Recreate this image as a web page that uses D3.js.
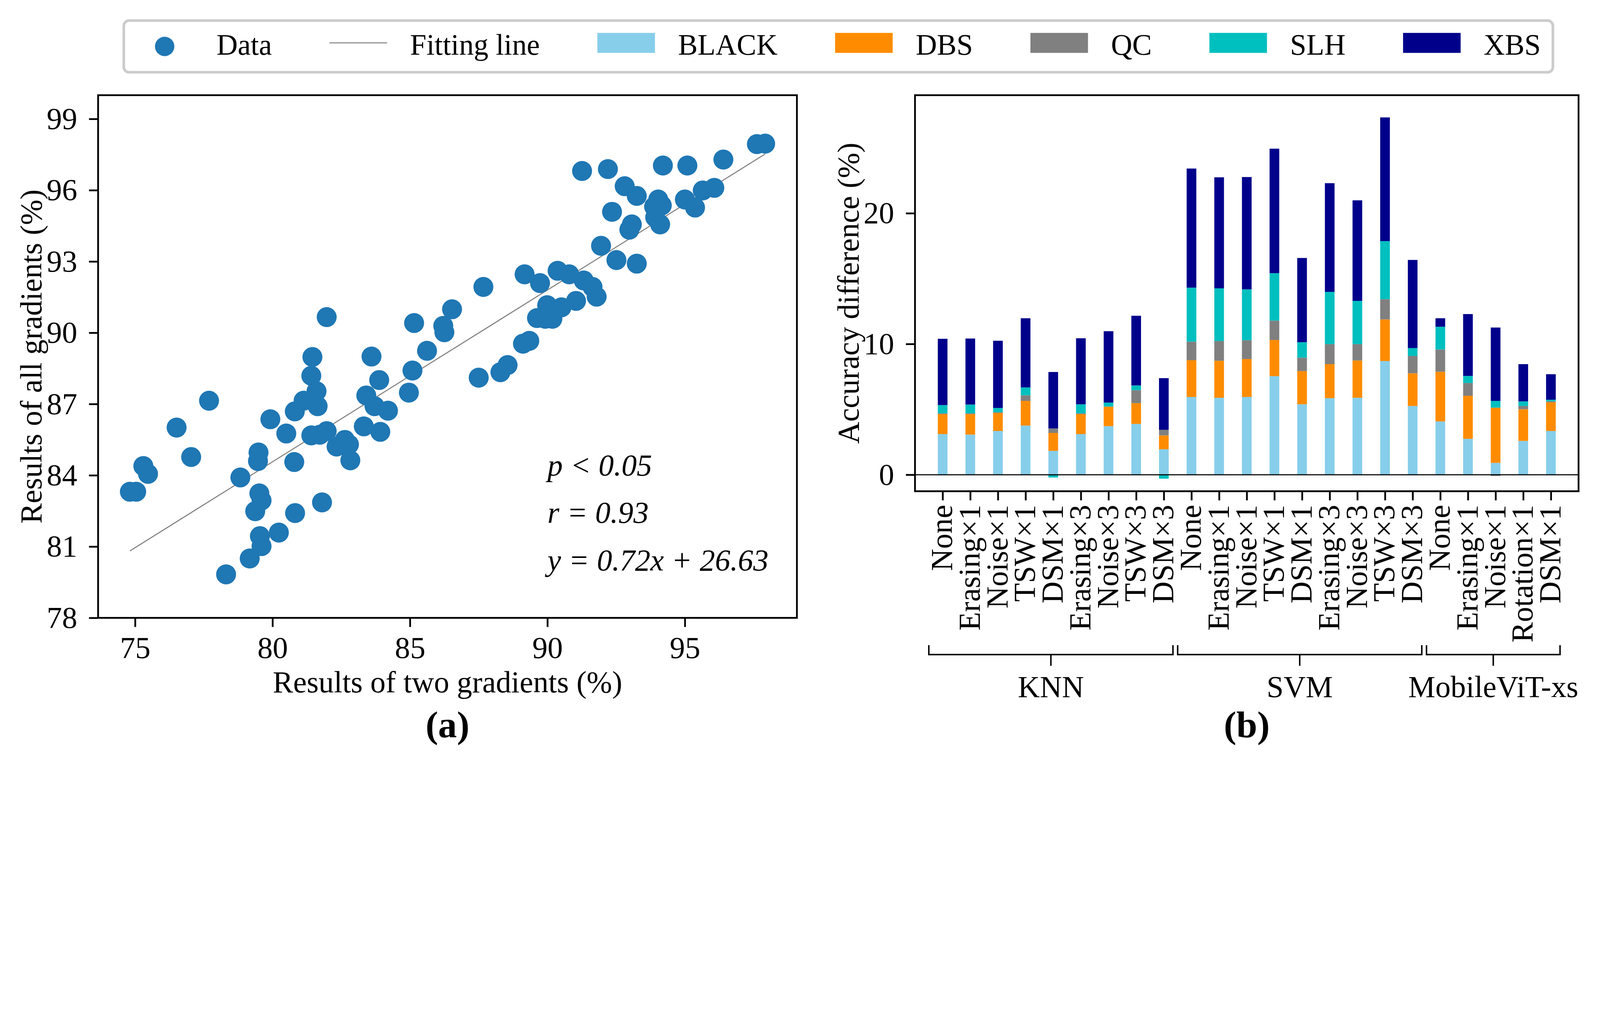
<!DOCTYPE html>
<html>
<head>
<meta charset="utf-8">
<script src="https://cdn.jsdelivr.net/npm/d3@7/dist/d3.min.js"></script>
<style>
html, body { margin: 0; padding: 0; background: #fff; overflow: hidden; }
#fig { display: block; width: 100vw; height: 100vh; }
text { font-family: "Liberation Serif", "DejaVu Serif", serif; fill: #000; }
</style>
</head>
<body>
<svg id="fig" viewBox="0 0 5447 2626" preserveAspectRatio="xMidYMin meet"></svg>
<script>
// ---- (a) scatter data ----
const twoGrad = [74.81, 75.04, 75.30, 75.47, 76.51, 77.04, 77.69, 78.31, 78.83, 79.17,
	79.37, 79.49, 79.47, 79.52, 79.60, 79.54, 79.60, 79.92, 80.23, 80.50,
	80.79, 80.81, 80.82, 81.13, 81.41, 81.45, 81.60, 81.64, 81.41, 81.72,
	81.97, 81.80, 81.97, 82.33, 82.63, 82.78, 82.83, 83.32, 83.41, 83.60,
	83.71, 83.88, 83.92, 84.20, 84.96, 85.09, 85.15, 85.62, 86.21, 86.25,
	86.53, 87.50, 87.67, 88.29, 88.55, 89.11, 89.34, 89.17, 89.73, 89.62,
	89.92, 89.99, 90.18, 90.37, 90.51, 90.79, 91.04, 91.26, 91.32, 91.64,
	91.79, 91.95, 92.20, 92.35, 92.51, 92.81, 92.98, 93.07, 93.25, 93.25,
	93.88, 94.03, 94.16, 93.92, 94.10, 94.20, 95.09, 95.00, 95.37, 95.65,
	96.07, 96.40, 97.62, 97.92];
const allGrad = [83.31, 83.31, 84.39, 84.06, 86.01, 84.77, 87.14, 79.83, 83.91, 80.50,
	82.49, 84.96, 84.60, 83.24, 82.94, 81.44, 81.02, 86.36, 81.59, 85.76,
	84.56, 86.69, 82.41, 87.14, 88.19, 88.98, 87.54, 86.91, 85.68, 85.71,
	85.86, 82.86, 90.66, 85.21, 85.49, 85.30, 84.63, 86.06, 87.36, 89.00,
	86.91, 88.01, 85.83, 86.72, 87.48, 88.41, 90.41, 89.24, 90.29, 90.02,
	90.99, 88.11, 91.93, 88.34, 88.64, 89.54, 89.66, 92.46, 92.09, 90.62,
	90.59, 91.16, 90.59, 92.61, 91.07, 92.46, 91.34, 96.81, 92.20, 91.93,
	91.52, 93.66, 96.89, 95.09, 93.06, 96.17, 94.34, 94.56, 95.76, 92.91,
	95.31, 95.61, 95.36, 94.86, 94.56, 97.04, 97.04, 95.61, 95.27, 95.99,
	96.10, 97.29, 97.94, 97.96];
const fitSlope = 0.723;
const fitIntercept = 26.73;
const statLines = ["p < 0.05", "r = 0.93", "y = 0.72x + 26.63"];
const statX = 90;
const statY = [84, 82, 80];
const scatterXTicks = [75, 80, 85, 90, 95];
const scatterYTicks = [78, 81, 84, 87, 90, 93, 96, 99];

// ---- (b) stacked bar data ----
const augments = ["None", "Erasing×1", "Noise×1", "TSW×1", "DSM×1", "Erasing×3", "Noise×3", "TSW×3", "DSM×3",
	"None", "Erasing×1", "Noise×1", "TSW×1", "DSM×1", "Erasing×3", "Noise×3", "TSW×3", "DSM×3",
	"None", "Erasing×1", "Noise×1", "Rotation×1", "DSM×1"];
const modelNames = ["KNN", "SVM", "MobileViT-xs"];
const modelSizes = [9, 9, 5];
const black = [3.11, 3.07, 3.35, 3.76, 1.83, 3.11, 3.72, 3.89, 1.95,
	5.95, 5.89, 5.95, 7.54, 5.39, 5.86, 5.89, 8.70, 5.26,
	4.08, 2.75, 0.91, 2.59, 3.35];
const dbs = [1.53, 1.57, 1.38, 1.89, 1.37, 1.53, 1.48, 1.59, 1.06,
	2.81, 2.83, 2.90, 2.77, 2.54, 2.60, 2.85, 3.18, 2.50,
	3.80, 3.29, 4.22, 2.42, 2.19];
const qc = [0.06, 0.06, 0.06, 0.43, 0.34, 0.06, 0.02, 0.99, 0.43,
	1.42, 1.51, 1.44, 1.48, 1.03, 1.53, 1.25, 1.55, 1.33,
	1.70, 0.98, -0.09, 0.25, 0.09];
const slh = [0.63, 0.67, 0.32, 0.60, -0.21, 0.69, 0.30, 0.36, -0.30,
	4.13, 4.03, 3.89, 3.63, 1.18, 4.00, 3.31, 4.44, 0.60,
	1.74, 0.54, 0.52, 0.35, 0.11];
const xbs = [5.07, 5.05, 5.14, 5.29, 4.32, 5.05, 5.46, 5.33, 3.95,
	9.11, 8.49, 8.59, 9.52, 6.44, 8.31, 7.69, 9.46, 6.74,
	0.65, 4.73, 5.61, 2.85, 1.95];
const seriesNames = ["BLACK", "DBS", "QC", "SLH", "XBS"];
const seriesColors = ["#87ceeb", "#ff8c00", "#808080", "#00bfbf", "#00008b"];
const barYTicks = [0, 10, 20];

const svg = d3.select("#fig");
const fs = 104;
const lw = 6;

// ================= (a) =================
const ax = { left: 334, right: 2713, top: 324, bottom: 2103 };
const xExt = d3.extent(twoGrad);
const xPad = (xExt[1] - xExt[0]) * 0.05;
const xA = d3.scaleLinear().domain([xExt[0] - xPad, xExt[1] + xPad]).range([ax.left, ax.right]);
const yA = d3.scaleLinear().domain([78, 100]).range([ax.bottom, ax.top]);

const gA = svg.append("g");

gA.append("line")
	.attr("x1", xA(xExt[0])).attr("y1", yA(fitSlope * xExt[0] + fitIntercept))
	.attr("x2", xA(xExt[1])).attr("y2", yA(fitSlope * xExt[1] + fitIntercept))
	.attr("stroke", "#808080").attr("stroke-width", 3.5);

gA.append("g").selectAll("circle")
	.data(twoGrad)
	.enter()
	.append("circle")
	.attr("cx", d => xA(d))
	.attr("cy", (d, i) => yA(allGrad[i]))
	.attr("r", 34)
	.attr("fill", "#1f77b4");

gA.append("g").selectAll("text")
	.data(statLines)
	.enter()
	.append("text")
	.attr("x", xA(statX))
	.attr("y", (d, i) => yA(statY[i]))
	.attr("font-size", fs)
	.attr("font-style", "italic")
	.text(d => d);

gA.append("g")
	.attr("transform", `translate(0,${ax.bottom})`)
	.call(d3.axisBottom(xA).tickValues(scatterXTicks).tickSize(31).tickPadding(31));
gA.append("g")
	.attr("transform", `translate(${ax.left},0)`)
	.call(d3.axisLeft(yA).tickValues(scatterYTicks).tickSize(31).tickPadding(40));

gA.append("rect")
	.attr("x", ax.left).attr("y", ax.top)
	.attr("width", ax.right - ax.left).attr("height", ax.bottom - ax.top)
	.attr("fill", "none").attr("stroke", "#000").attr("stroke-width", lw);

gA.append("text")
	.attr("x", (ax.left + ax.right) / 2).attr("y", 2356)
	.attr("text-anchor", "middle").attr("font-size", fs)
	.text("Results of two gradients (%)");
gA.append("text")
	.attr("transform", `translate(141,${(ax.top + ax.bottom) / 2}) rotate(-90)`)
	.attr("text-anchor", "middle").attr("font-size", fs)
	.text("Results of all gradients (%)");
gA.append("text")
	.attr("x", (ax.left + ax.right) / 2).attr("y", 2510)
	.attr("text-anchor", "middle").attr("font-size", 128).attr("font-weight", "bold")
	.text("(a)");

// ================= (b) =================
const bx = { left: 3115, right: 5374, top: 324, bottom: 1672 };
const idx = d3.range(augments.length);
const xB = d3.scaleLinear().domain([-1, augments.length]).range([bx.left, bx.right]);
const yB = d3.scaleLinear().domain([-1.26, 29.03]).range([bx.bottom, bx.top]);
const barW = 0.35;

const rows = idx.map(i => ({ i: i, BLACK: black[i], DBS: dbs[i], QC: qc[i], SLH: slh[i], XBS: xbs[i] }));
const stacked = d3.stack().keys(seriesNames).offset(d3.stackOffsetDiverging)(rows);

const gB = svg.append("g");

gB.append("g").selectAll("g")
	.data(stacked)
	.enter()
	.append("g")
	.attr("fill", (d, k) => seriesColors[k])
	.selectAll("rect")
	.data(d => d)
	.enter()
	.append("rect")
	.attr("x", d => xB(d.data.i - barW / 2))
	.attr("width", xB(barW) - xB(0))
	.attr("y", d => yB(Math.max(d[0], d[1])))
	.attr("height", d => Math.abs(yB(d[0]) - yB(d[1])));

gB.append("line")
	.attr("x1", bx.left).attr("x2", bx.right)
	.attr("y1", yB(0)).attr("y2", yB(0))
	.attr("stroke", "#000").attr("stroke-width", 3.5);

gB.append("g")
	.attr("transform", `translate(${bx.left},0)`)
	.call(d3.axisLeft(yB).tickValues(barYTicks).tickSize(31).tickPadding(40));

const xAxisB = gB.append("g")
	.attr("transform", `translate(0,${bx.bottom})`)
	.call(d3.axisBottom(xB).tickValues(idx).tickSize(31).tickFormat(i => augments[i]));
xAxisB.selectAll("text")
	.attr("transform", "translate(0,46) rotate(-90)")
	.attr("x", 0).attr("y", 0).attr("dy", "0.3em")
	.attr("text-anchor", "end");

gB.append("rect")
	.attr("x", bx.left).attr("y", bx.top)
	.attr("width", bx.right - bx.left).attr("height", bx.bottom - bx.top)
	.attr("fill", "none").attr("stroke", "#000").attr("stroke-width", lw);

// group brackets under the tick labels
let start = 0;
modelNames.forEach((name, k) => {
	const end = start + modelSizes[k] - 1;
	const x0 = xB(start - 0.5), x1 = xB(end + 0.33);
	const xm = (x0 + x1) / 2;
	gB.append("path")
		.attr("d", `M${x0},2196V2228H${x1}V2196M${xm},2228V2266`)
		.attr("fill", "none").attr("stroke", "#000").attr("stroke-width", 5);
	gB.append("text")
		.attr("x", xm).attr("y", 2372)
		.attr("text-anchor", "middle").attr("font-size", fs)
		.text(name);
	start = end + 1;
});

gB.append("text")
	.attr("transform", `translate(2923,${(bx.top + bx.bottom) / 2}) rotate(-90)`)
	.attr("text-anchor", "middle").attr("font-size", fs)
	.text("Accuracy difference (%)");
gB.append("text")
	.attr("x", (bx.left + bx.right) / 2).attr("y", 2510)
	.attr("text-anchor", "middle").attr("font-size", 128).attr("font-weight", "bold")
	.text("(b)");

// tick styling for both plots
svg.selectAll(".domain").remove();
svg.selectAll(".tick line").attr("stroke", "#000").attr("stroke-width", lw);
svg.selectAll(".tick text").attr("font-size", fs).attr("font-family", "Liberation Serif");

// ================= legend =================
const em = 98;
const legFs = 100;
const handleLen = 2 * em, handlePad = 0.8 * em, colSpace = 2 * em, borderPad = 0.42 * em;
const legCy = 152;
const legendItems = ["Data", "Fitting line"].concat(seriesNames);
const leg = svg.append("g");
const box = leg.append("rect");
const entries = leg.selectAll("g.entry")
	.data(legendItems)
	.enter()
	.append("g")
	.attr("class", "entry");
const labels = entries.append("text")
	.attr("font-size", legFs)
	.attr("y", legCy + 0.34 * legFs)
	.text(d => d);
const widths = labels.nodes().map(n => n.getComputedTextLength());
const totalW = d3.sum(widths) + legendItems.length * (handleLen + handlePad) + (legendItems.length - 1) * colSpace + 2 * borderPad;
const legLeft = 2854 - totalW / 2;
let cursor = legLeft + borderPad;
entries.each(function (d, i) {
	const g = d3.select(this);
	if (i === 0) {
		g.append("circle").attr("cx", cursor + handleLen / 2).attr("cy", legCy + 6).attr("r", 33).attr("fill", "#1f77b4");
	} else if (i === 1) {
		g.append("line").attr("x1", cursor).attr("x2", cursor + handleLen)
			.attr("y1", legCy - 6).attr("y2", legCy - 6)
			.attr("stroke", "#808080").attr("stroke-width", 3.5);
	} else {
		g.append("rect").attr("x", cursor).attr("y", legCy - 40)
			.attr("width", handleLen).attr("height", 68)
			.attr("fill", seriesColors[i - 2]);
	}
	g.select("text").attr("x", cursor + handleLen + handlePad);
	cursor += handleLen + handlePad + widths[i] + colSpace;
});
box.attr("x", legLeft).attr("y", 70)
	.attr("width", totalW).attr("height", 176)
	.attr("rx", 18).attr("ry", 18)
	.attr("fill", "#fff").attr("fill-opacity", 0.8)
	.attr("stroke", "#cccccc").attr("stroke-width", 9);
</script>
</body>
</html>
